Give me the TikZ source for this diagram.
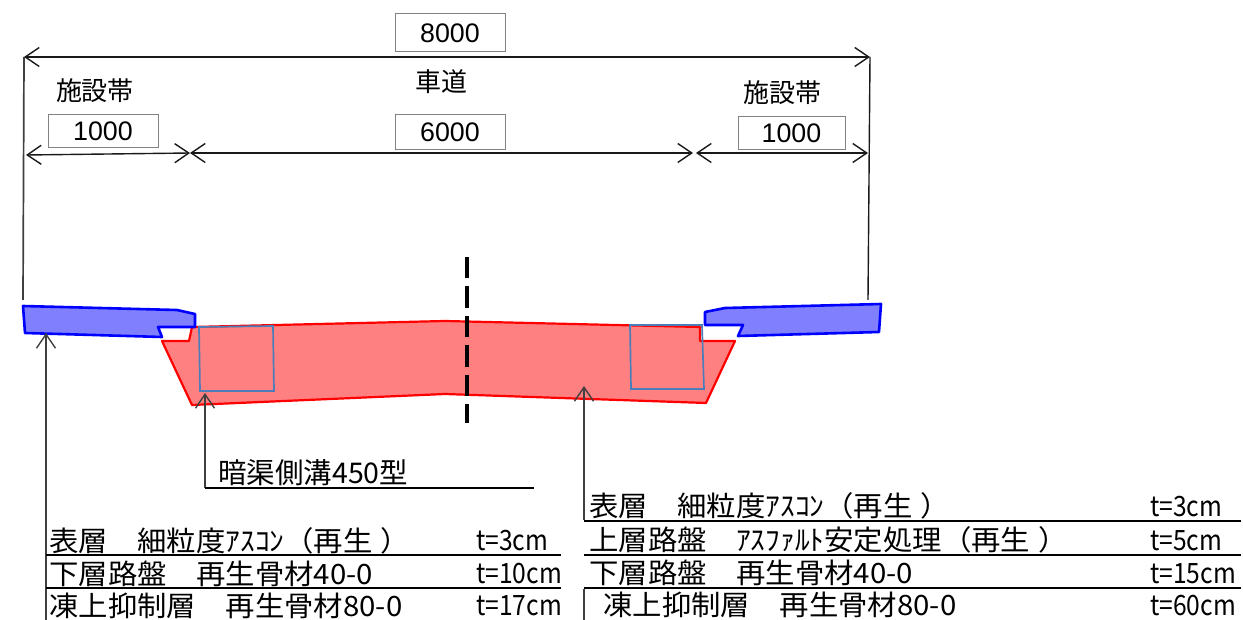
\documentclass[tikz,border=0pt]{standalone}
\usepackage{fontspec}
\usetikzlibrary{arrows.meta}
\setmainfont{Liberation Sans}
\newfontfamily\jpf{Noto Sans CJK JP}
\newfontfamily\jpn[FakeStretch=1.05]{Noto Sans CJK JP}
\newfontfamily\jpc[FakeStretch=0.88]{Noto Sans CJK JP}
\definecolor{redfill}{RGB}{255,128,128}
\definecolor{bluefill}{RGB}{128,128,255}
\definecolor{boxblue}{RGB}{76,125,185}
\definecolor{boxgray}{RGB}{130,130,130}
\tikzset{
  vv/.tip={Straight Barb[length=14pt,width=19pt,line width=1.4pt]},
  dimline/.style={draw=black!90,line width=1.4pt},
  leader/.style={draw=black!75,line width=1.7pt},
  rulel/.style={draw=black,line width=1.7pt},
  valbox/.style={draw=boxgray,line width=1pt,fill=white,inner sep=0pt,minimum width=110pt,minimum height=36pt,font=\fontsize{26.8}{26.8}\selectfont},
  jplabel/.style={inner sep=0pt,font=\jpf\fontsize{26}{26}\selectfont},
  tbl/.style={inner sep=0pt,anchor=base west,font=\jpn\fontsize{28}{28}\selectfont},
  tval/.style={inner sep=0pt,anchor=base west,font=\jpc\fontsize{28}{28}\selectfont},
  redpart/.style={draw=red,fill=redfill,line width=2.2pt,line join=round},
  bluepart/.style={draw=blue,fill=bluefill,line width=2.6pt,line join=round},
  ditch/.style={draw=boxblue,line width=1.7pt},
}
\begin{document}
\begin{tikzpicture}[x=1pt,y=-1pt]
\useasboundingbox (0,0) rectangle (1243,620);
% dimension coordinates
\coordinate (tl) at (24,57); \coordinate (tr) at (870,57);
\coordinate (el) at (23,300); \coordinate (er) at (868,300);
\coordinate (d1) at (26,155); \coordinate (d2) at (190,153);
\coordinate (d3) at (693,153); \coordinate (d4) at (696,153);
\coordinate (d5) at (868,153);
% dims
\draw[dimline,{vv}-{vv}] (tl) -- (tr);
\draw[leader] (tl) -- (el);
\draw[dimline] (tr) -- (er);
\draw[dimline,{vv}-{vv}] (d1) -- (d2);
\draw[dimline,{vv}-{vv}] (d2) -- (d3);
\draw[dimline,{vv}-{vv}] (d4) -- (d5);
% value boxes
\node[valbox,minimum height=38pt] (v8000) at (450,33) {\raisebox{-1pt}{8000}};
\node[valbox,minimum height=35pt] (v6000) at (450,132.5) {\raisebox{-1pt}{6000}};
\node[valbox,minimum height=33pt] (v1000l) at (103,131.5) {\raisebox{-1pt}{1000}};
\node[valbox,minimum width=107pt,minimum height=33pt] (v1000r) at (791.5,133.5) {\raisebox{-1pt}{1000}};
\node[jplabel] (roadway) at (441,82) {車道};
\node[jplabel] (sl) at (95,91) {施設帯};
\node[jplabel] (sr) at (782,93) {施設帯};
% cross-section
\draw[redpart] (192,327) -- (445,321) -- (700,327) -- (700,341) -- (735,341) -- (706,403) -- (445,394) -- (192,405) -- (162,341) -- (189,341) -- cycle;
\draw[bluepart] (23,306) -- (177,310) -- (195,314) -- (195,327) -- (158,327) -- (162,337) -- (25,333) -- cycle;
\draw[bluepart] (705,312) -- (725,308) -- (881,304) -- (879,332) -- (738,336) -- (743,325) -- (705,325) -- cycle;
\draw[ditch] (199,327) -- (273,326) -- (274,391) -- (200,391) -- cycle;
\draw[ditch] (630,325) -- (702,325) -- (704,389) -- (631,389) -- cycle;
\coordinate (c1) at (467,257); \coordinate (c2) at (467,423);
\draw[draw=black,line width=3.2pt,dash pattern=on 21.5pt off 8pt] (c1) -- (c2);
% leaders
\coordinate (a1a) at (46,620); \coordinate (a1b) at (46,333);
\coordinate (a2a) at (205,488); \coordinate (a2b) at (205,393); \coordinate (a2c) at (534,488);
\coordinate (a3a) at (584,520); \coordinate (a3b) at (584,386);
\coordinate (a3c) at (584,589); \coordinate (a3d) at (584,620);
\draw[leader,-{vv}] (a1a) -- (a1b);
\draw[leader,-{vv}] (a2a) -- (a2b);
\draw[rulel] (a2a) -- (a2c);
\draw[leader,-{vv}] (a3a) -- (a3b);
\draw[leader] (a3c) -- (a3d);
\node[inner sep=0pt,anchor=base west,font=\jpf\fontsize{28.5}{28.5}\selectfont] (ankyo) at (218,483) {暗渠側溝450型};
% left table
\coordinate (l1a) at (46,555); \coordinate (l1b) at (561,555);
\coordinate (l2a) at (46,588); \coordinate (l2b) at (561,588);
\draw[rulel] (l1a) -- (l1b);
\draw[rulel] (l2a) -- (l2b);
\node[tbl] (lt1) at (49,551) {表層　細粒度ｱｽｺﾝ（再生\kern8pt）};
\node[tbl] (lt2) at (49,584) {下層路盤　再生骨材40-0};
\node[tbl] (lt3) at (49,616) {凍上抑制層　再生骨材80-0};
\node[tval] (lv1) at (476,550) {t=3cm};
\node[tval] (lv2) at (476,583) {t=10cm};
\node[tval] (lv3) at (476,615) {t=17cm};
% right table
\coordinate (r1a) at (584,521); \coordinate (r1b) at (1241,521);
\coordinate (r2a) at (584,555); \coordinate (r2b) at (1241,555);
\coordinate (r3a) at (584,588); \coordinate (r3b) at (1241,588);
\draw[rulel] (r1a) -- (r1b);
\draw[rulel] (r2a) -- (r2b);
\draw[rulel] (r3a) -- (r3b);
\node[tbl] (rt1) at (589,516) {表層　細粒度ｱｽｺﾝ（再生\kern8pt）};
\node[tbl] (rt2) at (589,550) {上層路盤　ｱｽﾌｧﾙﾄ安定処理（再生\kern8pt）};
\node[tbl] (rt3) at (589,583) {下層路盤　再生骨材40-0};
\node[tbl] (rt4) at (603,615) {凍上抑制層　再生骨材80-0};
\node[tval] (rv1) at (1150,516) {t=3cm};
\node[tval] (rv2) at (1150,550) {t=5cm};
\node[tval] (rv3) at (1150,583) {t=15cm};
\node[tval] (rv4) at (1150,615) {t=60cm};
\end{tikzpicture}
\end{document}
